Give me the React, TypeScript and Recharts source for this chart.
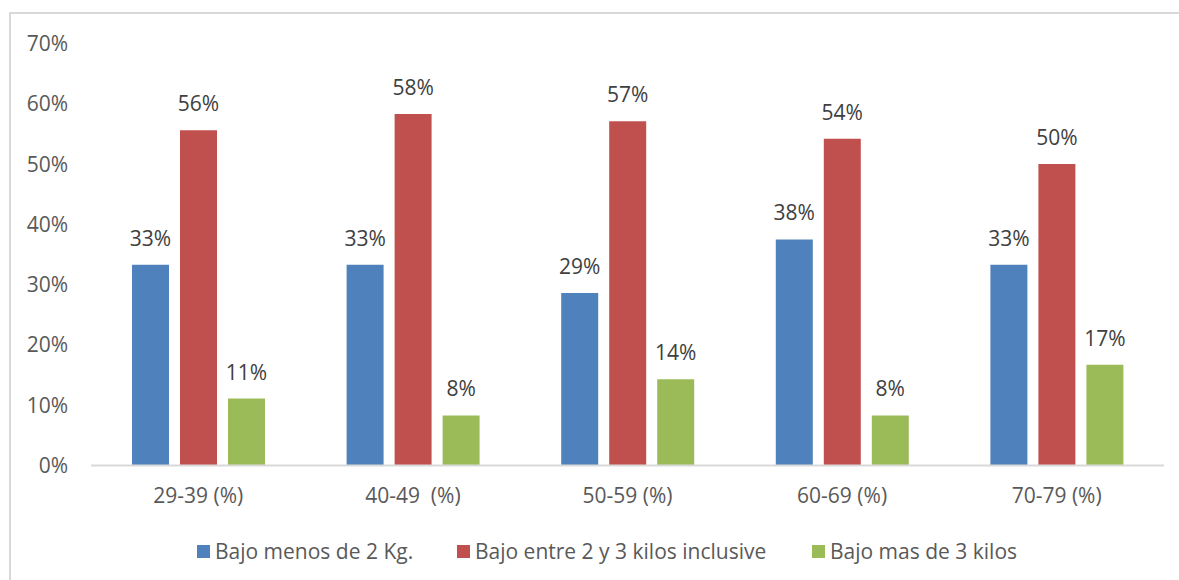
import { Bar, BarChart, LabelList, Legend, XAxis, YAxis } from "recharts";

const categories = ["29-39 (%)", "40-49\u00a0 (%)", "50-59 (%)", "60-69 (%)", "70-79 (%)"];
const menosDe2 = [0.333, 0.333, 0.286, 0.375, 0.333];
const entre2y3 = [0.556, 0.583, 0.571, 0.542, 0.5];
const masDe3 = [0.111, 0.083, 0.143, 0.083, 0.167];
const yTicks = [0, 0.1, 0.2, 0.3, 0.4, 0.5, 0.6, 0.7];

const series = [
  { key: "menos", name: "Bajo menos de 2 Kg.", color: "#4F81BD", width: 260 },
  { key: "entre", name: "Bajo entre 2 y 3 kilos inclusive", color: "#C0504D", width: 355 },
  { key: "mas", name: "Bajo mas de 3 kilos", color: "#9BBB59", width: 220 },
];

const data = categories.map((cat, i) => ({
  cat,
  menos: menosDe2[i],
  entre: entre2y3[i],
  mas: masDe3[i],
}));

const FONT = "'Open Sans', sans-serif";
const AXIS_TEXT = "#595959";
const FONT_SIZE = 21;
const pct = (v: unknown) => `${Math.round(Number(v) * 100)}%`;

function LegendRow() {
  return (
    <div style={{ display: "flex", alignItems: "center", fontSize: FONT_SIZE, color: AXIS_TEXT, whiteSpace: "nowrap", height: 30 }}>
      {series.map((s) => (
        <div key={s.key} style={{ display: "flex", alignItems: "center", width: s.width }}>
          <span style={{ width: 13, height: 13, background: s.color, marginRight: 5, display: "inline-block" }} />
          <span>{s.name}</span>
        </div>
      ))}
    </div>
  );
}

export default function App() {
  return (
    <div
      style={{
        position: "fixed",
        left: 0,
        top: 0,
        width: 1179,
        height: 580,
        overflow: "hidden",
        background: "#fff",
        fontFamily: FONT,
      }}
    >
      <div
        style={{
          position: "absolute",
          left: 9,
          top: 12,
          width: 1250,
          height: 650,
          border: "2px solid #D9D9D9",
        }}
      />
      <div style={{ position: "absolute", left: 0, top: 0 }}>
        {/* the legend's 30px row is added to the bottom offset by recharts */}
        <BarChart
          width={1179}
          height={580}
          data={data}
          margin={{ top: 43.5, right: 15, bottom: 84.5, left: 0 }}
          barSize={37}
          barGap={11}
        >
          <XAxis
            dataKey="cat"
            tickLine={false}
            tickSize={0}
            tickMargin={23}
            axisLine={{ stroke: "#D9D9D9", strokeWidth: 2 }}
            tick={{ fill: AXIS_TEXT, fontSize: FONT_SIZE }}
            interval={0}
          />
          <YAxis
            width={91}
            domain={[0, 0.7]}
            ticks={yTicks}
            tickFormatter={pct}
            tickLine={false}
            tickSize={0}
            tickMargin={23}
            axisLine={false}
            tick={{ fill: AXIS_TEXT, fontSize: FONT_SIZE }}
          />
          <Legend
            verticalAlign="middle"
            layout="horizontal"
            content={() => <LegendRow />}
            wrapperStyle={{ top: 536, left: 197, width: "auto" }}
          />
          {series.map((s) => (
            <Bar key={s.key} dataKey={s.key} name={s.name} fill={s.color} isAnimationActive={false}>
              <LabelList
                dataKey={s.key}
                position="top"
                offset={19}
                formatter={pct}
                fill="#404040"
                fontSize={FONT_SIZE}
              />
            </Bar>
          ))}
        </BarChart>
      </div>
    </div>
  );
}
